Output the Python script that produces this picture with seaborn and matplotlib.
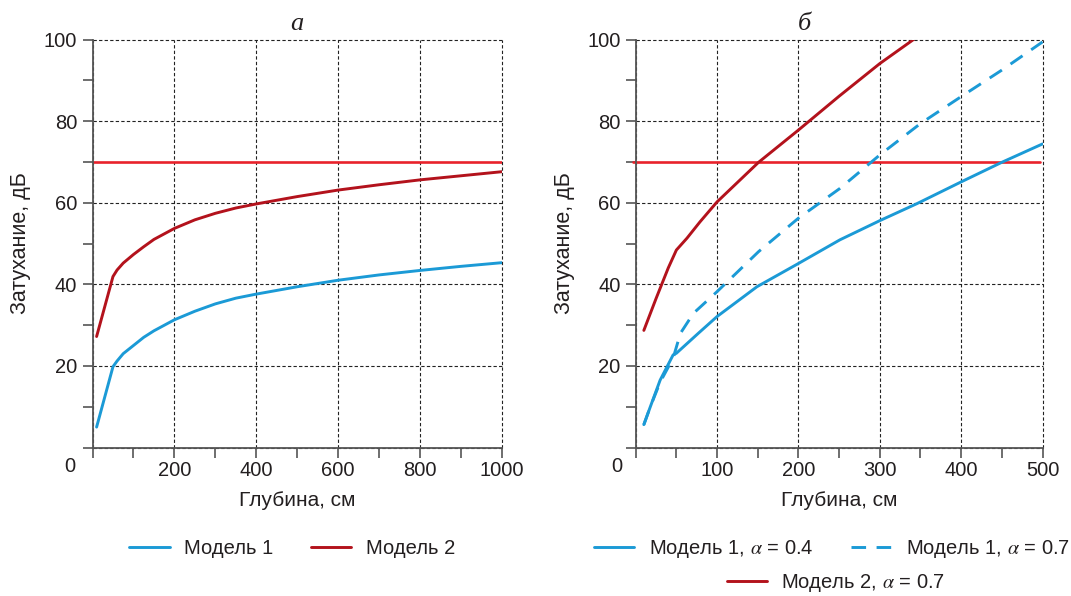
import pandas as pd
import matplotlib.pyplot as plt
from matplotlib.ticker import MultipleLocator
import seaborn as sns

# данные, панель а (глубина до 1000 см)
depth_a = [10, 50, 60, 75, 100, 125, 150, 200, 250, 300, 350, 400, 500, 600, 700, 800, 900, 1000]
model1_a = [5, 19.8, 21.2, 23.0, 25.0, 27.0, 28.6, 31.3, 33.4, 35.2, 36.6, 37.6, 39.4, 41.0, 42.3, 43.4, 44.4, 45.3]
model2_a = [27.2, 41.9, 43.5, 45.2, 47.3, 49.2, 51.0, 53.7, 55.8, 57.4, 58.7, 59.7, 61.5, 63.1, 64.4, 65.6, 66.6, 67.6]

# данные, панель б (глубина до 500 см)
depth_b = [10, 18, 30, 46, 50, 77, 100, 149, 200, 251, 300, 346, 400, 450, 500]
model1_b04 = [5.6, 10, 16.5, 22.7, 23.1, 28.0, 32.1, 39.4, 45.1, 50.9, 55.6, 59.8, 65.1, 69.9, 74.4]

depth_b07 = [10, 18, 30, 46, 55, 71, 100, 151, 200, 251, 300, 350, 400, 450, 500]
model1_b07 = [5.6, 10, 16.0, 21.9, 28.0, 32.9, 38.2, 48.0, 56.2, 63.5, 71.7, 79.4, 86.0, 92.5, 99.4]

depth_b2 = [10, 25, 40, 50, 63, 79, 100, 151, 200, 250, 300, 341.5]
model2_b = [28.7, 36.5, 44.0, 48.4, 51.3, 55.3, 60.2, 69.9, 77.8, 86.1, 94.1, 100]

threshold = 70

blue = '#1b9ad6'
dark_red = '#b3121c'
red = '#e8222b'
text_col = '#231f20'

sns.set_style('ticks')
plt.rcParams['font.family'] = ['Liberation Sans', 'DejaVu Sans']
plt.rcParams['mathtext.fontset'] = 'stix'
plt.rcParams['text.color'] = text_col
plt.rcParams['axes.labelcolor'] = text_col
plt.rcParams['xtick.color'] = '#555555'
plt.rcParams['ytick.color'] = '#555555'
plt.rcParams['xtick.labelcolor'] = text_col
plt.rcParams['ytick.labelcolor'] = text_col

fs = 14.5

fig = plt.figure(figsize=(10.71, 5.96), dpi=100)
H = 596.0
W = 1071.0
ax1 = fig.add_axes([92.5 / W, 1 - 447.5 / H, (502 - 92.5) / W, (447.5 - 39.5) / H])
ax2 = fig.add_axes([635.7 / W, 1 - 447.5 / H, (1042.5 - 635.7) / W, (447.5 - 39.5) / H])

df_a = pd.DataFrame({'depth': depth_a, 'm1': model1_a, 'm2': model2_a})
df_b1 = pd.DataFrame({'depth': depth_b, 'm1': model1_b04})
df_b7 = pd.DataFrame({'depth': depth_b07, 'm1': model1_b07})
df_b2 = pd.DataFrame({'depth': depth_b2, 'm2': model2_b})

lw = 2.1

# панель а
ax1.axhline(threshold, color=red, lw=1.9, zorder=2)
sns.lineplot(data=df_a, x='depth', y='m1', ax=ax1, color=blue, lw=lw, label='Модель 1')
sns.lineplot(data=df_a, x='depth', y='m2', ax=ax1, color=dark_red, lw=lw, label='Модель 2')

# панель б
ax2.plot([-3, 497], [threshold, threshold], color=red, lw=1.9, zorder=2, clip_on=False)
sns.lineplot(data=df_b1, x='depth', y='m1', ax=ax2, color=blue, lw=lw,
             label='Модель 1, $\\alpha$ = 0.4')
sns.lineplot(data=df_b7, x='depth', y='m1', ax=ax2, color=blue, lw=lw,
             linestyle=(0, (5, 3.6)), label='Модель 1, $\\alpha$ = 0.7')
sns.lineplot(data=df_b2, x='depth', y='m2', ax=ax2, color=dark_red, lw=lw,
             label='Модель 2, $\\alpha$ = 0.7')

for ax, xmax, xmaj, title, tx in [(ax1, 1000, 200, 'а', 0.5), (ax2, 500, 100, 'б', 0.415)]:
    ax.set_xlim(0, xmax)
    ax.set_ylim(0, 100)
    ax.xaxis.set_major_locator(MultipleLocator(xmaj))
    ax.xaxis.set_minor_locator(MultipleLocator(xmaj / 2))
    ax.yaxis.set_major_locator(MultipleLocator(20))
    ax.yaxis.set_minor_locator(MultipleLocator(10))
    ax.tick_params(which='both', direction='out', length=7, width=1.2, labelsize=14.5)
    ax.tick_params(axis='y', pad=4)
    ax.tick_params(axis='x', pad=3)
    ax.xaxis.set_major_formatter(plt.FuncFormatter(lambda v, p: '' if v == 0 else f'{v:.0f}'))
    ax.yaxis.set_major_formatter(plt.FuncFormatter(lambda v, p: '' if v == 0 else f'{v:.0f}'))
    ax.grid(True, which='major', color='#222222', lw=0.8, linestyle=(0, (3, 2)))
    for gl in ax.get_xgridlines() + ax.get_ygridlines():
        gl.set_clip_on(False)
    sns.despine(ax=ax)
    for s in ['left', 'bottom']:
        ax.spines[s].set_color('#555555')
        ax.spines[s].set_linewidth(1.3)
    ax.set_xlabel('Глубина, см', fontsize=15, labelpad=8)
    ax.set_ylabel('Затухание, дБ', fontsize=15.5, labelpad=9)
    ax.set_title(title, fontsize=19, family='Liberation Serif', style='italic', x=tx, pad=7)
    if ax.get_legend() is not None:
        ax.get_legend().remove()

# общий ноль в углу
ax1.text(-0.056, -0.047, '0', transform=ax1.transAxes, ha='center', va='center', fontsize=14.5)
ax2.text(-0.046, -0.047, '0', transform=ax2.transAxes, ha='center', va='center', fontsize=14.5)

h1, l1 = ax1.get_legend_handles_labels()
h2, l2 = ax2.get_legend_handles_labels()

leg_kw = dict(frameon=False, fontsize=fs, handlelength=2.0, handletextpad=0.7,
              columnspacing=1.9, borderaxespad=0, borderpad=0)
fig.legend(h1, l1, loc='center', bbox_to_anchor=(292 / W, 1 - 549 / H), ncol=2, **leg_kw)
fig.legend(h2[:2], l2[:2], loc='center', bbox_to_anchor=(832 / W, 1 - 549 / H), ncol=2, **leg_kw)
fig.legend(h2[2:], l2[2:], loc='center', bbox_to_anchor=(836 / W, 1 - 583 / H), ncol=1, **leg_kw)

fig.savefig('out.png', dpi=100)
